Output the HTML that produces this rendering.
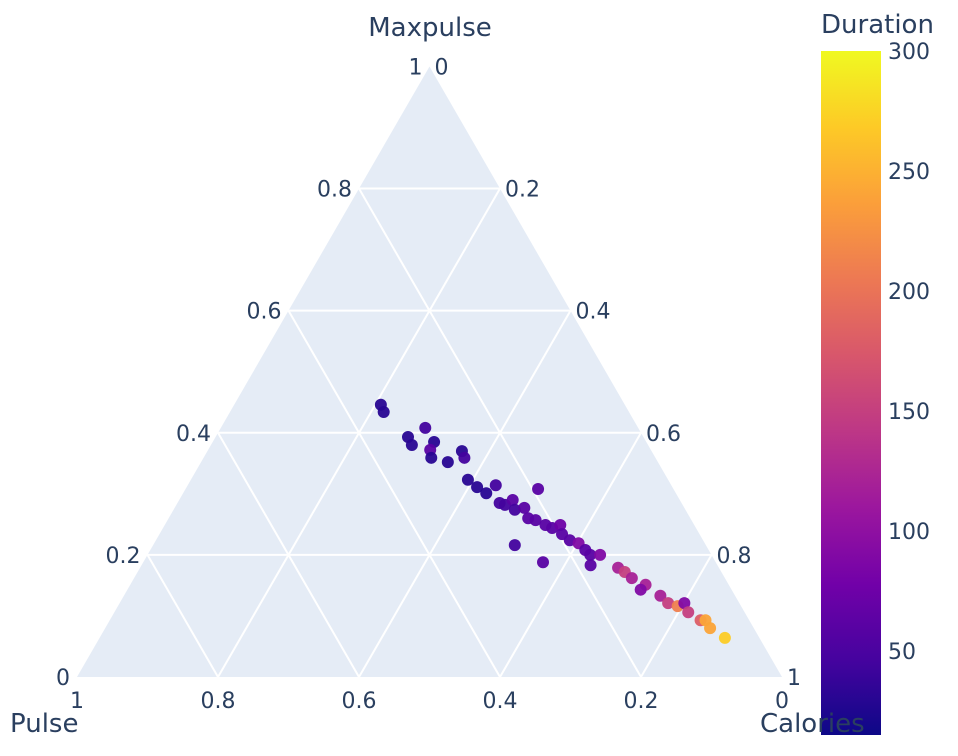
<!DOCTYPE html>
<html><head><meta charset="utf-8">
<style>
html,body{margin:0;padding:0;background:#fff;}
svg{display:block;font-family:"DejaVu Sans","Liberation Sans",sans-serif;}
</style></head>
<body>
<svg id="chart" width="958" height="756" viewBox="0 0 958 756" xmlns="http://www.w3.org/2000/svg">
<defs>
<linearGradient id="plasma" x1="0" y1="1" x2="0" y2="0">
<stop offset="0" stop-color="#0d0887"/><stop offset="0.111" stop-color="#46039f"/>
<stop offset="0.222" stop-color="#7201a8"/><stop offset="0.333" stop-color="#9c179e"/>
<stop offset="0.444" stop-color="#bd3786"/><stop offset="0.556" stop-color="#d8576b"/>
<stop offset="0.667" stop-color="#ed7953"/><stop offset="0.778" stop-color="#fb9f3a"/>
<stop offset="0.889" stop-color="#fdca26"/><stop offset="1" stop-color="#f0f921"/>
</linearGradient>
</defs>
<g id="tri"></g>
<g id="pts"></g>
<g id="cbar"></g>
<g id="topLayer"></g>
</svg>
<script>
const maxpulse=[.446,.434,.393,.380,.408,.385,.372,.359,.352,.370,.359,.323,.311,.301,.314,.285,.282,.290,.274,.277,.260,.308,.257,.249,.244,.249,.234,.224,.219,.208,.200,.200,.183,.216,.188,.179,.172,.162,.151,.143,.133,.121,.116,.121,.106,.093,.093,.080,.064];
const pulse=[.346,.348,.334,.335,.302,.301,.313,.318,.298,.269,.271,.284,.277,.269,.249,.258,.252,.237,.242,.227,.230,.192,.221,.211,.204,.190,.195,.189,.179,.175,.172,.158,.180,.271,.245,.143,.137,.132,.118,.129,.106,.101,.090,.078,.080,.069,.062,.062,.049];
const calories=[.208,.218,.273,.285,.290,.314,.315,.323,.350,.361,.370,.393,.412,.430,.437,.457,.466,.473,.484,.496,.510,.500,.522,.540,.552,.561,.571,.587,.602,.617,.628,.642,.637,.513,.567,.678,.691,.706,.731,.728,.761,.778,.794,.801,.814,.838,.845,.858,.887];
const duration=[30,30,30,30,45,30,60,30,30,30,45,30,30,30,45,45,45,60,45,60,60,60,60,60,60,75,60,60,90,60,60,90,60,45,60,120,150,120,120,90,120,150,210,90,150,180,240,240,270];
const ticks=[0,0.2,0.4,0.6,0.8,1];
const cbTicks=[50,100,150,200,250,300];
const cmin=15,cmax=300;

const NS="http://www.w3.org/2000/svg";
const L=77,R=782,B=677,W=R-L,H=W*Math.sqrt(3)/2;
function pos(a,b,c){const s=a+b+c;a/=s;c/=s;return [L+W*(c+a/2),B-H*a];}
function mk(tag,attrs,parent,txt){const e=document.createElementNS(NS,tag);for(const k in attrs)e.setAttribute(k,attrs[k]);if(txt!==undefined)e.textContent=txt;parent.appendChild(e);return e;}
const tri=document.getElementById('tri');
const bg=mk('polygon',{points:[pos(1,0,0),pos(0,1,0),pos(0,0,1)].map(p=>p.join(',')).join(' '),fill:'#e5ecf6'},tri);


const col='#2a3f5f';
const FS=22;
ticks.forEach(t=>{
  if(t>0&&t<1){
    let p1=pos(t,1-t,0),p2=pos(t,0,1-t);
    let g=mk('line',{x1:p1[0],y1:p1[1],x2:p2[0],y2:p2[1],stroke:'#fff','stroke-width':2},tri);
    
    
    p1=pos(0,t,1-t);p2=pos(1-t,t,0);
    g=mk('line',{x1:p1[0],y1:p1[1],x2:p2[0],y2:p2[1],stroke:'#fff','stroke-width':2},tri);
    
    
    p1=pos(1-t,0,t);p2=pos(0,1-t,t);
    g=mk('line',{x1:p1[0],y1:p1[1],x2:p2[0],y2:p2[1],stroke:'#fff','stroke-width':2},tri);
    
    
  }
  let p=pos(t,1-t,0);
  let tx=mk('text',{x:p[0]-7,y:p[1]+8,'text-anchor':'end','font-size':FS,fill:col},tri,String(t));
  
  
  p=pos(1-t,0,t);
  tx=mk('text',{x:p[0]+5,y:p[1]+8,'text-anchor':'start','font-size':FS,fill:col},tri,String(t));
  
  
  p=pos(0,t,1-t);
  tx=mk('text',{x:p[0],y:p[1]+31,'text-anchor':'middle','font-size':FS,fill:col},tri,String(t));
  
  
});
let tt=mk('text',{x:430,y:36,'text-anchor':'middle','font-size':26,fill:col},tri,'Maxpulse');


tt=mk('text',{x:10,y:732,'text-anchor':'start','font-size':26,fill:col},tri,'Pulse');



const stops=[[13,8,135],[70,3,159],[114,1,168],[156,23,158],[189,55,134],[216,87,107],[237,121,83],[251,159,58],[253,202,38],[240,249,33]];
function color(v){let t=Math.max(0,Math.min(1,(v-cmin)/(cmax-cmin)))*(stops.length-1);const i=Math.min(stops.length-2,Math.floor(t)),f=t-i;const c=stops[i].map((s,k)=>Math.round(s+(stops[i+1][k]-s)*f));return `rgb(${c})`;}
const pts=document.getElementById('pts');
maxpulse.forEach((a,i)=>{
  const p=pos(a,pulse[i],calories[i]);
  const c=mk('circle',{cx:p[0],cy:p[1],r:6,fill:color(duration[i]),'fill-opacity':0.95},pts);
  
  
});

const cb=document.getElementById('cbar');
const cbTop=51,cbBot=735,cbX=821,cbW=60;
const cy=v=>cbBot-(v-cmin)/(cmax-cmin)*(cbBot-cbTop);
const rect=mk('rect',{x:cbX,y:cbTop,width:cbW,height:cbBot-cbTop,fill:'url(#plasma)'},cb);


cbTicks.forEach(v=>{
  const t=mk('text',{x:888,y:cy(v)+8,'font-size':FS,fill:col},cb,String(v));
  
  
});
const ct=mk('text',{x:821,y:33,'font-size':26,fill:col},cb,'Duration');



const topG=document.getElementById('topLayer');
tt=mk('text',{x:760,y:732,'text-anchor':'start','font-size':26,fill:col},topG,'Calories');


</script>
</body></html>
